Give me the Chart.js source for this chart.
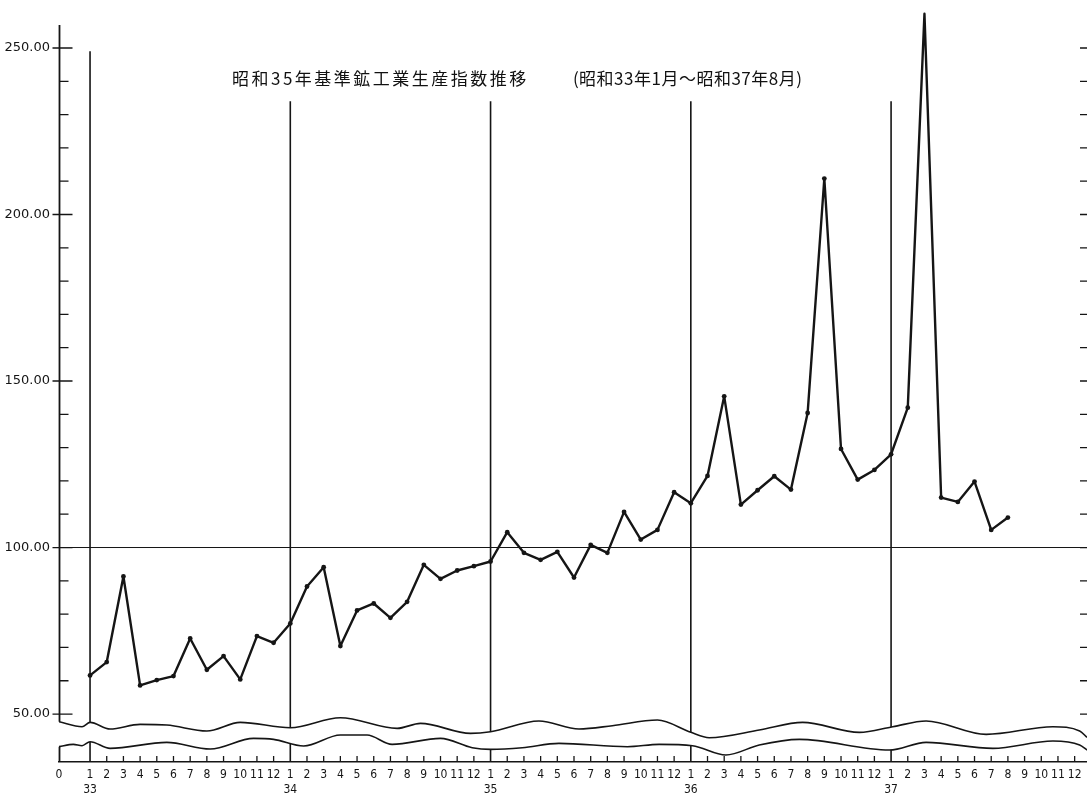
<!DOCTYPE html>
<html>
<head>
<meta charset="utf-8">
<script src="https://cdn.jsdelivr.net/npm/chart.js@4.4.0/dist/chart.umd.min.js"></script>
<style>
  html, body { margin: 0; padding: 0; background: #fff; overflow: hidden; }
  #wrap { position: relative; width: 1087px; height: 796px; }
  #title { position: absolute; left: 232px; top: 65px; font-family: "Noto Sans CJK JP"; font-size: 17px; color: #111; white-space: nowrap; }
  #title .main { letter-spacing: 2.5px; }
  #title .range { margin-left: 44px; letter-spacing: 0.5px; }
</style>
</head>
<body>
<div id="wrap">
  <canvas id="chart" width="1087" height="796"></canvas>
  <div id="title"><span class="main">昭和35年基準鉱工業生産指数推移</span><span class="range">(昭和33年1月～昭和37年8月)</span></div>
</div>
<script>
// years shown under each January (昭和)
const years = ['33', '34', '35', '36', '37'];

// monthly index, 昭和33年1月 .. 昭和37年8月
const indexValues = [
  61.6, 65.6, 91.3, 58.6, 60.2, 61.4, 72.7, 63.3, 67.4, 60.4, 73.4, 71.4,
  77.2, 88.3, 94.1, 70.4, 81.1, 83.2, 78.9, 83.7, 94.8, 90.6, 93.1, 94.4,
  95.8, 104.6, 98.4, 96.3, 98.7, 91.0, 100.8, 98.4, 110.7, 102.4, 105.3, 116.6,
  113.3, 121.5, 145.4, 112.9, 117.2, 121.4, 117.4, 140.4, 210.8, 129.6, 120.4, 123.3,
  128.0, 142.0, 260.3, 115.0, 113.7, 119.8, 105.3, 109.0
];

const yLabelValues = [50, 100, 150, 200, 250];
const yMinorStep = 10;
const refLevel = 100;
// value where each year boundary line starts
const yearLineTop = [249, 234, 234, 234, 234];

// axis-break wavy lines (month position, value)
const upperWaveX = [-1.86, -0.48, 0, 1.2, 3.0, 4.6, 7.0, 9.0, 12.0, 15.0, 18.4, 19.8, 22.8, 24.0, 26.9, 29.3, 31.3, 34.0, 36.0, 37.1, 40.1, 42.7, 46.1, 48.1, 50.1, 53.7, 57.7, 59.3, 59.74];
const upperWaveY = [47.7, 46.2, 47.5, 45.5, 46.9, 46.7, 44.9, 47.5, 45.9, 48.9, 45.7, 47.2, 44.2, 44.7, 47.9, 45.5, 46.5, 48.2, 44.5, 42.9, 45.2, 47.5, 44.5, 46.2, 47.9, 43.9, 46.2, 44.9, 43.0];
const lowerWaveX = [-1.86, -1.0, -0.48, 0, 1.2, 4.6, 7.2, 9.8, 11.0, 12.8, 15.0, 16.6, 18.1, 21.0, 22.9, 24.0, 25.9, 28.1, 32.2, 34.1, 36.1, 38.1, 40.1, 42.5, 47.9, 50.1, 54.1, 57.7, 59.3, 59.74];
const lowerWaveY = [40.2, 40.9, 40.5, 41.7, 39.7, 41.5, 39.5, 42.7, 42.4, 40.4, 43.7, 43.7, 40.9, 42.7, 39.9, 39.4, 39.9, 41.2, 40.2, 40.9, 40.5, 37.7, 40.7, 42.4, 39.2, 41.5, 39.7, 41.9, 40.7, 39.2];

const X_MIN = -1.86, X_MAX = 59.74;
const Y_MIN = 35.6, Y_MAX = 256.9;
const INK = '#151515';

const toPoints = (xs, ys) => xs.map((x, i) => ({ x: x, y: ys[i] }));

// tick marks, boundary lines and the broken axis
const decor = {
  id: 'decor',
  beforeDatasetsDraw(chart) {
    const { ctx, chartArea, scales: { x, y } } = chart;
    ctx.save();
    ctx.strokeStyle = INK;
    ctx.lineWidth = 1.6;
    years.forEach((yr, k) => {
      const px = x.getPixelForValue(k * 12);
      ctx.beginPath();
      ctx.moveTo(px, y.getPixelForValue(yearLineTop[k]));
      ctx.lineTo(px, chartArea.bottom);
      ctx.stroke();
    });
    ctx.lineWidth = 1;
    const py = y.getPixelForValue(refLevel);
    ctx.beginPath();
    ctx.moveTo(chartArea.left, py);
    ctx.lineTo(chartArea.right, py);
    ctx.stroke();
    ctx.restore();
  },
  afterDatasetsDraw(chart) {
    const { ctx, chartArea, scales: { x, y } } = chart;
    ctx.save();
    ctx.strokeStyle = INK;
    ctx.lineWidth = 1.8;
    const left = chartArea.left + 0.5;
    ctx.beginPath();
    ctx.moveTo(left, chartArea.top);
    ctx.lineTo(left, y.getPixelForValue(upperWaveY[0]));
    ctx.moveTo(left, y.getPixelForValue(lowerWaveY[0]));
    ctx.lineTo(left, chartArea.bottom);
    ctx.stroke();

    ctx.lineWidth = 1.3;
    const lo = yLabelValues[0], hi = yLabelValues[yLabelValues.length - 1];
    for (let v = lo; v <= hi; v += yMinorStep) {
      const py = y.getPixelForValue(v);
      ctx.beginPath();
      if (v % 50 === 0) {
        ctx.moveTo(left - 7, py); ctx.lineTo(left + 13, py);
      } else {
        ctx.moveTo(left, py); ctx.lineTo(left + 9, py);
      }
      ctx.moveTo(chartArea.right - 7, py); ctx.lineTo(chartArea.right, py);
      ctx.stroke();
    }

    for (let m = 0; m < years.length * 12; m++) {
      if (m % 12 === 0) continue;
      const px = x.getPixelForValue(m);
      ctx.beginPath();
      ctx.moveTo(px, chartArea.bottom);
      ctx.lineTo(px, chartArea.bottom - 6);
      ctx.stroke();
    }
    ctx.restore();
  }
};

new Chart(document.getElementById('chart'), {
  type: 'line',
  data: {
    datasets: [
      {
        data: indexValues.map((v, i) => ({ x: i, y: v })),
        borderColor: INK,
        borderWidth: 2.4,
        borderJoinStyle: 'round',
        pointRadius: 2.4,
        pointBackgroundColor: INK,
        pointBorderWidth: 0,
        tension: 0,
        clip: false,
        order: 1
      },
      {
        data: toPoints(upperWaveX, upperWaveY),
        borderColor: INK,
        borderWidth: 1.6,
        pointRadius: 0,
        cubicInterpolationMode: 'monotone',
        fill: '+1',
        backgroundColor: '#ffffff',
        order: 3
      },
      {
        data: toPoints(lowerWaveX, lowerWaveY),
        borderColor: INK,
        borderWidth: 1.6,
        pointRadius: 0,
        cubicInterpolationMode: 'monotone',
        fill: false,
        order: 2
      }
    ]
  },
  options: {
    responsive: false,
    animation: false,
    devicePixelRatio: 1,
    layout: { autoPadding: false, padding: { top: 25, right: 0, bottom: 0, left: 0 } },
    plugins: { legend: { display: false }, tooltip: { enabled: false }, title: { display: false } },
    scales: {
      x: {
        type: 'linear',
        min: X_MIN,
        max: X_MAX,
        grid: { display: false, drawTicks: false },
        border: { display: true, color: INK, width: 1.6 },
        afterBuildTicks: (scale) => {
          const t = [{ value: X_MIN }];
          for (let m = 0; m < years.length * 12; m++) t.push({ value: m });
          scale.ticks = t;
        },
        afterFit: (scale) => {
          scale.height = 34;
          scale.paddingLeft = 0;
          scale.paddingRight = 0;
        },
        ticks: {
          autoSkip: false,
          maxRotation: 0,
          padding: 6,
          color: INK,
          font: { family: '"DejaVu Sans Condensed", "DejaVu Sans"', size: 12, lineHeight: 1.2 },
          callback: (value) => {
            if (value === X_MIN) return '0';
            const m = value % 12;
            if (m === 0) return ['1', years[value / 12]];
            return String(m + 1);
          }
        }
      },
      y: {
        min: Y_MIN,
        max: Y_MAX,
        grid: { display: false, drawTicks: false },
        border: { display: false },
        afterBuildTicks: (scale) => { scale.ticks = yLabelValues.map(v => ({ value: v })); },
        afterFit: (scale) => {
          scale.width = 59;
          scale.paddingTop = 0;
          scale.paddingBottom = 0;
        },
        ticks: {
          padding: 9,
          color: INK,
          font: { family: '"DejaVu Sans"', size: 13 },
          callback: (value) => Number(value).toFixed(2)
        }
      }
    }
  },
  plugins: [decor]
});
</script>
</body>
</html>
